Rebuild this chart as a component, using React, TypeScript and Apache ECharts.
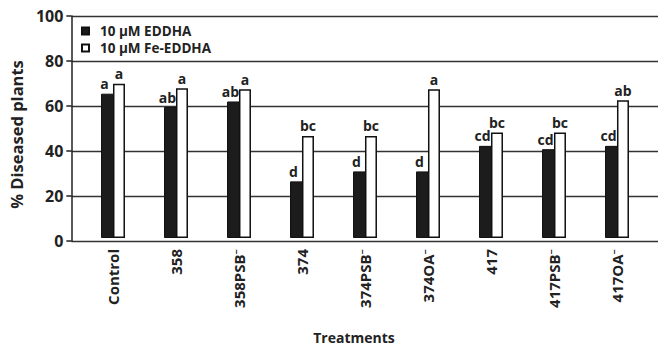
import React, { useEffect, useRef } from "react";
import * as echarts from "echarts";

const categories = ["Control", "358", "358PSB⁻", "374", "374PSB⁻", "374OA⁻", "417", "417PSB⁻", "417OA⁻"];
const eddha = [65, 59, 61.5, 25.5, 30, 30, 41.5, 40, 41.5];
const feEddha = [69.5, 67.5, 67, 46, 46, 67, 47.5, 47.5, 62];
const eddhaLetters = ["a", "ab", "ab", "d", "d", "d", "cd", "cd", "cd"];
const feLetters = ["a", "a", "a", "bc", "bc", "a", "bc", "bc", "ab"];
const yTicks = [0, 20, 40, 60, 80, 100];

const FONT = "'Open Sans', 'Noto Sans', sans-serif";
const INK = "#222";

export default function App() {
  const ref = useRef<HTMLDivElement>(null);
  useEffect(() => {
    if (!ref.current) return;
    const chart = echarts.init(ref.current, undefined, { renderer: "svg" });
    chart.setOption({
      animation: false,
      backgroundColor: "#fff",
      textStyle: { fontFamily: FONT },
      legend: {
        left: 81,
        top: 24,
        padding: 0,
        orient: "vertical",
        itemWidth: 7,
        itemHeight: 7,
        itemGap: 3,
        textStyle: {
          fontFamily: FONT,
          fontWeight: "bold",
          fontSize: 13.5,
          lineHeight: 13,
          color: INK,
          padding: [0, 0, 0, 6],
        },
        data: [
          { name: "10 µM EDDHA", icon: "rect" },
          { name: "10 µM Fe-EDDHA", icon: "rect" },
        ],
      },
      grid: [
        { left: 66, right: 0, top: 16, bottom: 108 },
        { left: 81.5, right: 9.5, top: 16, bottom: 108 },
      ],
      xAxis: [
        {
          gridIndex: 0,
          type: "category",
          data: categories,
          axisLine: { show: false },
          axisTick: { show: false },
          axisLabel: { show: false },
        },
        {
          gridIndex: 1,
          type: "category",
          data: categories,
          axisLine: { show: false },
          axisTick: { show: false },
          axisLabel: {
            rotate: 90,
            margin: 11,
            fontFamily: FONT,
            fontWeight: "bold",
            fontSize: 15,
            color: INK,
          },
          name: "Treatments",
          nameLocation: "middle",
          nameGap: 92,
          nameTextStyle: {
            fontFamily: FONT,
            fontWeight: "bold",
            fontSize: 14,
            color: INK,
            padding: [0, 22, 0, 0],
          },
        },
      ],
      yAxis: [
        {
          gridIndex: 0,
          type: "value",
          min: 0,
          max: 100,
          interval: 20,
          axisLine: { show: true, lineStyle: { color: INK, width: 1.5 } },
          axisTick: { show: true, length: 5, lineStyle: { color: INK, width: 1.5 } },
          splitLine: { show: true, lineStyle: { color: "#333", width: 1.3 } },
          axisLabel: {
            margin: 8,
            fontFamily: FONT,
            fontWeight: "bold",
            fontSize: 16,
            color: INK,
            formatter: (v: number) => (yTicks.includes(v) ? String(v) : ""),
          },
          name: "% Diseased plants",
          nameLocation: "middle",
          nameGap: 36,
          nameRotate: 90,
          nameTextStyle: {
            fontFamily: FONT,
            fontWeight: "bold",
            fontSize: 16.5,
            color: INK,
            padding: [0, 12, 0, 0],
          },
        },
        {
          gridIndex: 1,
          type: "value",
          min: 0,
          max: 100,
          interval: 20,
          show: false,
          splitLine: { show: false },
        },
      ],
      series: [
        {
          name: "10 µM EDDHA",
          type: "bar",
          xAxisIndex: 1,
          yAxisIndex: 1,
          data: eddha,
          barWidth: 13,
          barGap: "-8%",
          itemStyle: { color: "#1c1c1c", borderColor: "#111", borderWidth: 1 },
          label: {
            show: true,
            position: "top",
            distance: 3,
            offset: [-3, 0],
            fontFamily: FONT,
            fontWeight: "bold",
            fontSize: 14,
            color: INK,
            formatter: (p: any) => eddhaLetters[p.dataIndex],
          },
          z: 3,
        },
        {
          name: "10 µM Fe-EDDHA",
          type: "bar",
          xAxisIndex: 1,
          yAxisIndex: 1,
          data: feEddha,
          barWidth: 12,
          itemStyle: { color: "#fff", borderColor: "#111", borderWidth: 1.5 },
          label: {
            show: true,
            position: "top",
            distance: 3,
            fontFamily: FONT,
            fontWeight: "bold",
            fontSize: 14,
            color: INK,
            formatter: (p: any) => feLetters[p.dataIndex],
          },
          z: 3,
        },
      ],
    });
    return () => chart.dispose();
  }, []);
  return (
    <div
      ref={ref}
      style={{ position: "fixed", left: 0, top: 0, width: 658, height: 349 }}
    />
  );
}
